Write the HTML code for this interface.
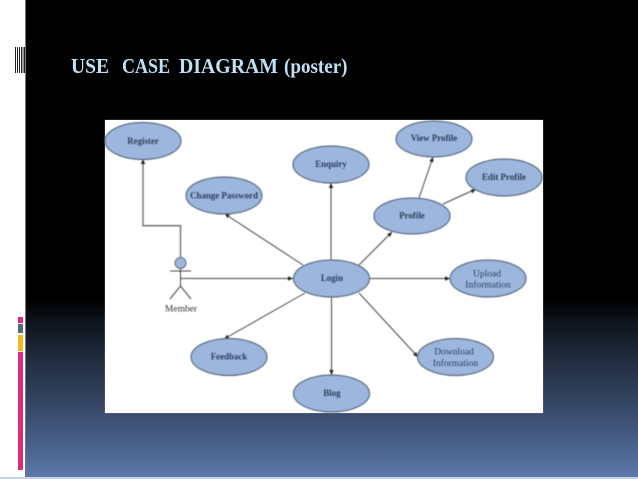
<!DOCTYPE html>
<html><head><meta charset="utf-8">
<style>
html,body{margin:0;padding:0;background:#fff}
#p{position:relative;width:638px;height:479px;overflow:hidden;background:#fff;font-family:"Liberation Serif",serif}
#bg{position:absolute;left:25px;top:0;width:613px;height:477px;background:linear-gradient(to bottom,#000 0,#000 300px,#0d131b 320px,#2c3b54 385px,#465d84 440px,#5b79a9 477px);border-left:1px solid #777;box-sizing:border-box}
#bl{position:absolute;left:0;top:477px;width:638px;height:2px;background:#c5d3e2}
.b{position:absolute;left:18px;width:5px}
#d{position:absolute;left:105px;top:120px;width:438px;height:293px;background:#fff;box-shadow:0 0 1px #999}
svg{position:absolute;left:0;top:0}
#m{filter:blur(.4px)}
#m text{font-family:"Liberation Serif",serif;font-size:8.9px;fill:#2c3d58;text-anchor:middle;font-weight:bold}
#m text.n{font-weight:normal;font-size:9.5px}
ellipse{fill:#9cb6de;stroke:#5d6e84;stroke-width:1.2}
.l{stroke:#444;stroke-width:1;fill:none}
.a{fill:#222}
#h{filter:blur(.3px)}
#h text{font-family:"Liberation Serif",serif;font-weight:bold;font-size:21.5px;fill:#bde0f2}
</style></head><body>
<div id="p">
<div id="bg"></div><div id="bl"></div>
<svg width="30" height="90">
<g fill="#222"><rect x="15" y="47" width="1" height="26"/><rect x="17" y="47" width="1" height="26"/><rect x="19" y="47" width="1" height="26"/><rect x="21" y="47" width="1.4" height="26"/><rect x="23.5" y="47" width="1.5" height="26"/></g>
</svg>
<div class="b" style="top:317px;height:6px;background:#dc2a82"></div>
<div class="b" style="top:324px;height:9px;background:#56677f"></div>
<div class="b" style="top:335px;height:16px;background:#f4b81c"></div>
<div class="b" style="top:352px;height:118px;background:#dc2a82"></div>
<svg id="h" width="638" height="100">
<text x="71" y="73" textLength="38" lengthAdjust="spacingAndGlyphs">USE</text>
<text x="122" y="73" textLength="48" lengthAdjust="spacingAndGlyphs">CASE</text>
<text x="179" y="73" textLength="99" lengthAdjust="spacingAndGlyphs">DIAGRAM</text>
<text x="284" y="73" textLength="63.5" lengthAdjust="spacingAndGlyphs">(poster)</text>
</svg>
<div id="d"></div>
<svg id="m" width="638" height="479" viewBox="0 0 638 479">
<path class="l" d="M180.5 258V225.7H143V160" style="stroke:#666;stroke-width:1.3"/>
<path class="l" d="M181 278.5H293M303 265L225 214M331 260V183M359 265L392 232M419 198L433 157M443 204L476 189M369 278.5H450M359 293L418 357M305 293L224 339M331.5 297V375"/>
<g class="a">
<path d="M143 159l-2.2 5h4.4zM293 278.5l-5-2.3v4.6zM225 214l2.4 4.3 2.3-3.6zM331 183l-2.2 5h4.4zM392 232l-4.8 2 3 3zM433 157l-3.6 4 4 1.4zM476 189l-5.3.6 1.7 3.9zM450 278.5l-5-2.3v4.6zM418 357l-1.8-5-3.2 3zM224 339l5.2-.6-2.1-3.7zM331.5 375l-2.2-5h4.4z"/>
</g>
<ellipse cx="143" cy="141" rx="38" ry="18.5"/>
<ellipse cx="224" cy="195.5" rx="38" ry="18.5"/>
<ellipse cx="331" cy="164.5" rx="38" ry="18.5"/>
<ellipse cx="434" cy="139" rx="38" ry="18"/>
<ellipse cx="504" cy="177.5" rx="38" ry="18.5"/>
<ellipse cx="412" cy="216" rx="38" ry="18"/>
<ellipse cx="331.5" cy="278.5" rx="38" ry="18.5"/>
<ellipse cx="488" cy="278.5" rx="38" ry="18.5"/>
<ellipse cx="455.5" cy="357" rx="38" ry="18.5"/>
<ellipse cx="229" cy="357" rx="38" ry="18.5"/>
<ellipse cx="331.5" cy="393.5" rx="38" ry="18.5"/>
<circle cx="180.5" cy="263" r="5.5" style="fill:#9cb6de;stroke:#5d6e84"/>
<path class="l" d="M170 271H191M180.5 268.5V286L170 299M180.5 286L191 299"/>
<text x="143" y="144">Register</text>
<text x="224" y="198.5">Change Password</text>
<text x="331" y="167">Enquiry</text>
<text x="434" y="141">View Profile</text>
<text x="504" y="180">Edit Profile</text>
<text x="412" y="218.5">Profile</text>
<text x="332" y="281">Login</text>
<text class="n" x="487" y="276.5">Upload</text>
<text class="n" x="488" y="287.5">Information</text>
<text class="n" x="454" y="354.5">Download</text>
<text class="n" x="455.5" y="366">Information</text>
<text x="229" y="359.5">Feedback</text>
<text x="332" y="396">Blog</text>
<text class="n" x="181" y="311.5" style="fill:#333">Member</text>
</svg>
</div>
</body></html>
